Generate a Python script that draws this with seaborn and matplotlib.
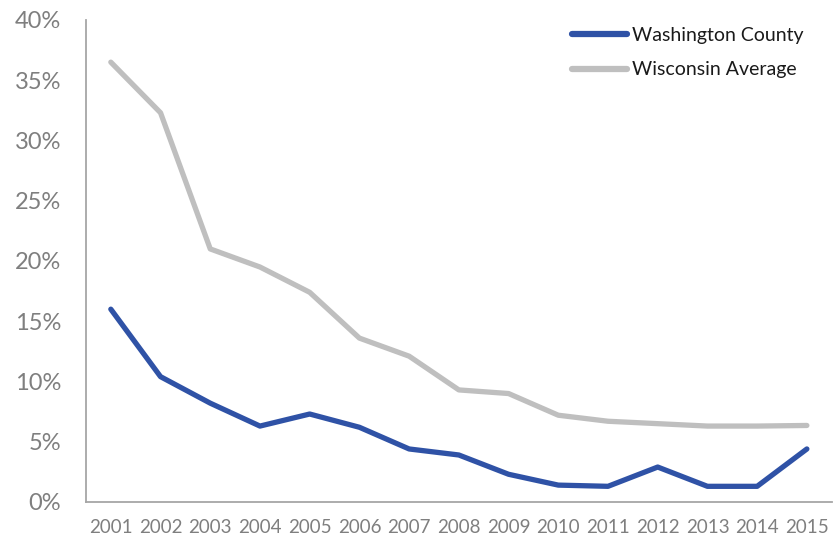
import matplotlib
matplotlib.use("Agg")
import matplotlib.pyplot as plt
import seaborn as sns
import pandas as pd
from matplotlib.ticker import FuncFormatter

years = ["2001", "2002", "2003", "2004", "2005", "2006", "2007", "2008",
         "2009", "2010", "2011", "2012", "2013", "2014", "2015"]
washington = [16.0, 10.4, 8.2, 6.3, 7.3, 6.2, 4.4, 3.9, 2.3, 1.4, 1.3, 2.9, 1.3, 1.3, 4.4]
wisconsin = [36.5, 32.3, 21.0, 19.5, 17.4, 13.6, 12.1, 9.3, 9.0, 7.2, 6.7, 6.5, 6.3, 6.3, 6.35]
series_names = ["Washington County", "Wisconsin Average"]
colors = ["#2F52A6", "#BFBFBF"]

df = pd.DataFrame({
    "year": years * 2,
    "idx": list(range(len(years))) * 2,
    "value": washington + wisconsin,
    "series": [series_names[0]] * len(years) + [series_names[1]] * len(years),
})

sns.set_theme(style="white")
plt.rcParams["font.family"] = ["Lato", "DejaVu Sans"]

fig = plt.figure(figsize=(8.37, 5.40), dpi=100)
ax = fig.add_axes([0.1027, 0.0704, 0.891, 0.8926])

sns.lineplot(data=df, x="idx", y="value", hue="series", palette=colors,
             linewidth=3.8, ax=ax, legend=True)
for ln in ax.get_lines():
    ln.set_solid_capstyle("round")
    ln.set_solid_joinstyle("round")

ax.set_xlim(-0.5, len(years) - 0.5)
ax.set_ylim(0, 40)
ax.set_yticks(range(0, 41, 5))
ax.yaxis.set_major_formatter(FuncFormatter(lambda v, p: f"{int(v)}%"))
ax.set_xticks(range(len(years)))
ax.set_xticklabels(years)
ax.set_xlabel("")
ax.set_ylabel("")
ax.tick_params(axis="y", labelsize=17, labelcolor="#7F7F7F", length=0, pad=18)
ax.tick_params(axis="x", labelsize=13.5, labelcolor="#7F7F7F", length=0, pad=12)
for s in ["top", "right"]:
    ax.spines[s].set_visible(False)
for s in ["left", "bottom"]:
    ax.spines[s].set_color("#A6A6A6")
    ax.spines[s].set_linewidth(1.3)

leg = ax.legend(loc="upper right", bbox_to_anchor=(0.985, 1.022), frameon=False,
                fontsize=14, handlelength=2.8, handletextpad=0.25, labelspacing=0.9)
for t in leg.get_texts():
    t.set_color("#1A1A1A")
for h in leg.get_lines():
    h.set_linewidth(4.5)
    h.set_solid_capstyle("round")

fig.savefig("out.png", dpi=100)
